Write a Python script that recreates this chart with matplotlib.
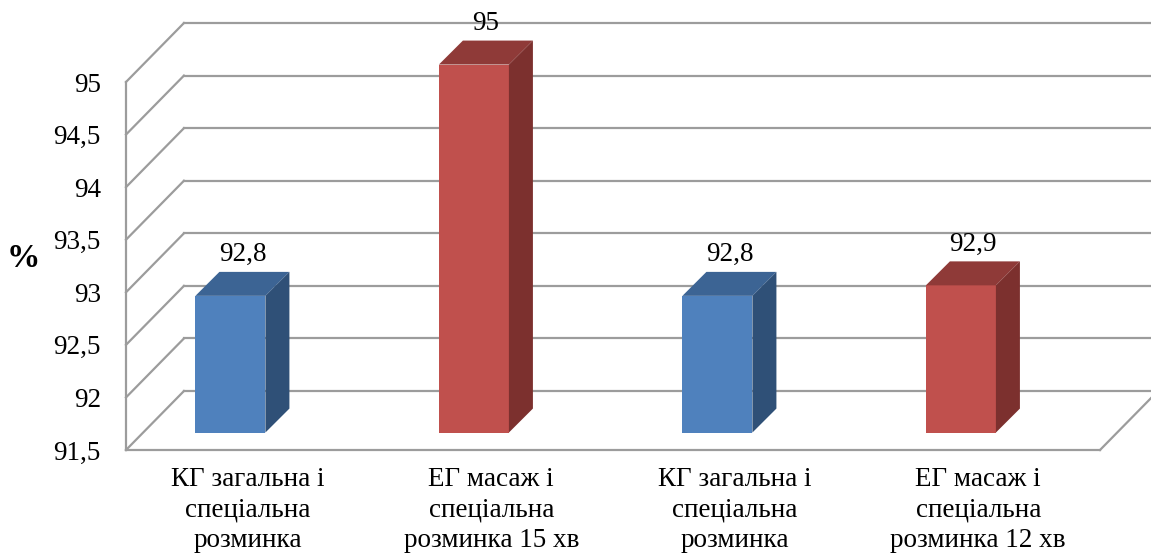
import matplotlib.pyplot as plt
from matplotlib.patches import Polygon

plt.rcParams['font.family'] = ['Liberation Serif', 'DejaVu Serif']

# дані
categories = ['КГ загальна і\nспеціальна\nрозминка',
              'ЕГ масаж і\nспеціальна\nрозминка 15 хв',
              'КГ загальна і\nспеціальна\nрозминка',
              'ЕГ масаж і\nспеціальна\nрозминка 12 хв']
values = [92.8, 95.0, 92.8, 92.9]
value_labels = ['92,8', '95', '92,8', '92,9']
y_ticks = [91.5, 92, 92.5, 93, 93.5, 94, 94.5, 95]
y_tick_labels = ['91,5', '92', '92,5', '93', '93,5', '94', '94,5', '95']

# кольори граней стовпчиків: фронт, верх, бік
blue = ('#4F81BD', '#3C6494', '#2F5077')
red = ('#C0504D', '#8F3A38', '#7C302E')
bar_colors = [blue, red, blue, red]
grid_color = '#9C9C9C'

# псевдо-3D: зсув задньої стінки та глибина стовпчиків (в одиницях осей)
WALL_DX, WALL_DY = 0.238, 0.561
BAR_X0, BAR_W = -0.215, 0.2875
BAR_LIFT = 0.166
BAR_DX, BAR_DY = 0.0986, 0.228

ymin, ymax = 91.5, 95
xmin, xmax = -0.5, len(categories) - 0.5

fig = plt.figure(figsize=(11.51, 5.57), dpi=100)
ax = fig.add_axes([126 / 1151, 107 / 557, 974 / 1151, 368 / 557])
ax.set_xlim(xmin, xmax)
ax.set_ylim(ymin, ymax)

# сітка на задній і бічній стінках
for v in y_ticks:
    ax.plot([xmin + WALL_DX, xmax + WALL_DX * 2], [v + WALL_DY, v + WALL_DY],
            color=grid_color, lw=1.6, clip_on=False, zorder=1)
    ax.plot([xmin, xmin + WALL_DX], [v, v + WALL_DY],
            color=grid_color, lw=1.6, clip_on=False, zorder=1)
# передня вісь і підлога
ax.plot([xmin, xmin], [ymin, ymax], color=grid_color, lw=1.6, clip_on=False, zorder=1)
ax.plot([xmin, xmax], [ymin, ymin], color=grid_color, lw=1.6, clip_on=False, zorder=1)
ax.plot([xmax, xmax + WALL_DX], [ymin, ymin + WALL_DY],
        color=grid_color, lw=1.6, clip_on=False, zorder=1)

for i, (val, lab, cols) in enumerate(zip(values, value_labels, bar_colors)):
    x0 = i + BAR_X0
    x1 = x0 + BAR_W
    y0 = ymin + BAR_LIFT
    top = val + BAR_LIFT
    front = Polygon([(x0, y0), (x1, y0), (x1, top), (x0, top)],
                    closed=True, facecolor=cols[0], edgecolor='none', zorder=3, clip_on=False)
    lid = Polygon([(x0, top), (x1, top), (x1 + BAR_DX, top + BAR_DY), (x0 + BAR_DX, top + BAR_DY)],
                  closed=True, facecolor=cols[1], edgecolor='none', zorder=3, clip_on=False)
    side = Polygon([(x1, y0), (x1 + BAR_DX, y0 + BAR_DY), (x1 + BAR_DX, top + BAR_DY), (x1, top)],
                   closed=True, facecolor=cols[2], edgecolor='none', zorder=3, clip_on=False)
    for p in (front, lid, side):
        ax.add_patch(p)
    ax.annotate(lab, xy=(x0 + (BAR_W + BAR_DX) / 2, top + BAR_DY), xytext=(0, 12.5),
                textcoords='offset points', ha='center', va='center',
                fontsize=19.5, annotation_clip=False)

ax.set_yticks(y_ticks)
ax.set_yticklabels(y_tick_labels, fontsize=19.5)
ax.set_xticks(range(len(categories)))
ax.set_xticklabels(categories, fontsize=19.5, linespacing=1.3)
ax.tick_params(axis='y', length=0, pad=18)
ax.tick_params(axis='x', length=0, pad=12)
for s in ax.spines.values():
    s.set_visible(False)

ax.set_ylabel('%', rotation=0, fontsize=24, fontweight='bold', va='center', ha='center')
ax.yaxis.set_label_coords(-0.105, 0.52)

fig.savefig('out.png', dpi=100)
